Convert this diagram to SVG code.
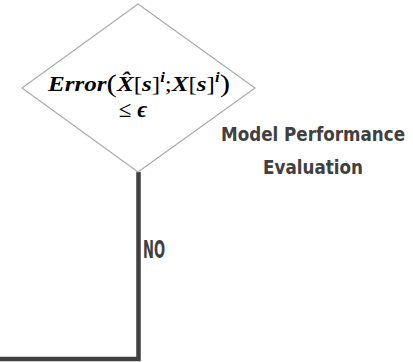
<svg xmlns="http://www.w3.org/2000/svg" width="413" height="362" viewBox="0 0 413 362">
<style>
.lbl{font-family:"DejaVu Sans Condensed","DejaVu Sans",sans-serif;font-weight:bold;fill:#404040}
.math{font-family:"Liberation Serif",serif;fill:#000}
.bi{font-weight:bold;font-style:italic}
.conn{fill:none;stroke:#404040;stroke-width:4.5;stroke-linejoin:miter}
</style>
<rect width="413" height="362" fill="#fff"/>
<g id="connectors">
<polyline class="conn" points="138.5,172 138.5,359 0,359"/>
</g>
<g id="decision">
<polygon points="138,4 255,88 138,172 22,88" fill="#fff" stroke="#acacac" stroke-width="1.2"/>
<text class="math" x="48" y="91" font-size="21" textLength="182" lengthAdjust="spacingAndGlyphs"><tspan class="bi">Error</tspan><tspan font-size="26" dy="1">(</tspan><tspan class="bi" dy="-1">X̂</tspan>[<tspan class="bi">s</tspan>]<tspan class="bi" font-size="14" dy="-9">i</tspan><tspan dy="9">;</tspan><tspan class="bi">X</tspan>[<tspan class="bi">s</tspan>]<tspan class="bi" font-size="14" dy="-9">i</tspan><tspan font-size="26" dy="10">)</tspan></text>
<text class="math" x="133" y="117" font-size="23" text-anchor="middle">≤ <tspan class="bi">ϵ</tspan></text>
</g>
<g id="title">
<text class="lbl" transform="translate(313,141) scale(1,1.15)" x="0" y="0" font-size="17" text-anchor="middle" textLength="184" lengthAdjust="spacingAndGlyphs">Model Performance</text>
<text class="lbl" transform="translate(313,174) scale(1,1.15)" x="0" y="0" font-size="17" text-anchor="middle" textLength="100" lengthAdjust="spacingAndGlyphs">Evaluation</text>
</g>
<g id="no-label">
<text class="lbl" x="143" y="258" font-size="24" textLength="22" lengthAdjust="spacingAndGlyphs">NO</text>
</g>
</svg>
